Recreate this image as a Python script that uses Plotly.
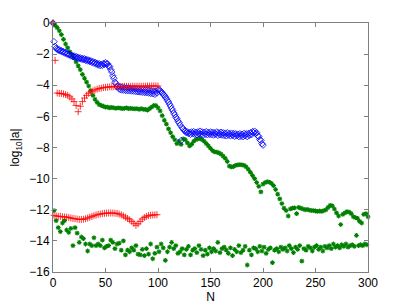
import plotly.graph_objects as go

# blue diamonds, N = 0..200
blue_n = list(range(0, 201))
blue_v = [
    0.0, -1.2, -1.5, -1.62, -1.68, -1.75, -1.72, -1.8, -1.78, -1.86,
    -1.84, -1.93, -1.9, -1.99, -1.97, -2.05, -2.02, -2.12, -2.08, -2.16,
    -2.12, -2.2, -2.16, -2.25, -2.2, -2.28, -2.24, -2.32, -2.27, -2.36,
    -2.3, -2.4, -2.34, -2.44, -2.38, -2.48, -2.43, -2.53, -2.48, -2.58,
    -2.53, -2.64, -2.58, -2.7, -2.62, -2.74, -2.65, -2.72, -2.6, -2.66,
    -2.55, -2.64, -2.62, -2.78, -2.8, -3.0, -3.15, -3.4, -3.55, -3.8,
    -3.9, -4.1, -4.05, -4.25, -4.1, -4.3, -4.12, -4.32, -4.15, -4.33,
    -4.15, -4.35, -4.17, -4.36, -4.2, -4.37, -4.2, -4.38, -4.22, -4.4,
    -4.22, -4.42, -4.25, -4.43, -4.25, -4.45, -4.27, -4.46, -4.3, -4.48,
    -4.3, -4.5, -4.32, -4.52, -4.35, -4.55, -4.38, -4.58, -4.4, -4.5,
    -4.3, -4.28, -4.35, -4.42, -4.5, -4.58, -4.65, -4.75, -4.85, -4.98,
    -5.08, -5.22, -5.35, -5.5, -5.62, -5.78, -5.9, -6.05, -6.15, -6.3,
    -6.4, -6.55, -7.55, -6.72, -6.8, -6.9, -6.95, -7.05, -7.0, -7.1,
    -7.02, -7.15, -7.0, -7.12, -6.98, -7.15, -7.02, -7.18, -7.0, -7.12,
    -6.95, -7.15, -7.0, -7.2, -7.02, -7.15, -6.98, -7.18, -7.03, -7.15,
    -7.0, -7.18, -7.02, -7.2, -7.05, -7.15, -7.0, -7.22, -7.05, -7.18,
    -7.02, -7.2, -7.05, -7.22, -7.08, -7.25, -7.05, -7.2, -7.1, -7.25,
    -7.08, -7.22, -7.1, -7.28, -7.12, -7.25, -7.15, -7.3, -7.12, -7.28,
    -7.15, -7.3, -7.1, -7.25, -7.12, -7.3, -7.1, -7.22, -7.05, -7.18,
    -6.98, -7.05, -6.95, -7.1, -7.05, -7.25, -7.3, -7.5, -7.55, -7.75,
    -7.85,
]

# red plus, upper branch (even N) and lower branch (odd N)
red_hi_n = list(range(0, 101, 2))
red_hi_v = [
    0.0, -2.4, -4.5, -4.52, -4.53, -4.56, -4.6, -4.65, -4.75, -4.88,
    -5.05, -5.3, -5.7, -5.35, -5.05, -4.82, -4.65, -4.52, -4.43, -4.36,
    -4.3, -4.25, -4.21, -4.18, -4.15, -4.13, -4.12, -4.1, -4.1, -4.09,
    -4.09, -4.08, -4.08, -4.08, -4.07, -4.07, -4.07, -4.07, -4.06, -4.06,
    -4.06, -4.06, -4.06, -4.06, -4.06, -4.05, -4.05, -4.05, -4.05, -4.05,
    -4.05,
]
red_lo_n = list(range(1, 100, 2))
red_lo_v = [
    -12.36, -12.4, -12.42, -12.43, -12.45, -12.46, -12.47, -12.5, -12.53, -12.56,
    -12.58, -12.6, -12.62, -12.62, -12.61, -12.58, -12.53, -12.48, -12.43, -12.38,
    -12.34, -12.3, -12.28, -12.25, -12.23, -12.22, -12.21, -12.21, -12.21, -12.22,
    -12.24, -12.28, -12.33, -12.4, -12.48, -12.56, -12.65, -12.75, -12.87, -13.0,
    -12.9, -12.75, -12.6, -12.5, -12.42, -12.38, -12.35, -12.34, -12.33, -12.32,
]

# green asterisks, upper branch (even N) and lower branch (odd N)
green_hi_n = list(range(0, 301, 2))
green_hi_v = [
    0.0, -0.15, -0.3, -0.5, -0.75, -1.05, -1.35, -1.6, -1.85, -2.05,
    -2.25, -2.5, -2.75, -3.0, -3.3, -3.55, -3.8, -4.05, -4.35, -4.65,
    -4.9, -5.1, -5.25, -5.3, -5.35, -5.4, -5.4, -5.45, -5.42, -5.45,
    -5.48, -5.45, -5.47, -5.5, -5.48, -5.45, -5.5, -5.48, -5.5, -5.52,
    -5.5, -5.55, -5.5, -5.55, -5.55, -5.6, -5.5, -5.4, -5.3, -5.3,
    -5.45, -5.65, -5.95, -6.25, -6.5, -6.8, -7.05, -7.3, -7.5, -7.75,
    -7.6, -7.8, -7.45, -7.5, -7.7, -7.9, -7.8, -7.6, -7.5, -7.45,
    -7.42, -7.5, -7.6, -7.75, -7.9, -8.05, -8.2, -8.28, -8.3, -8.35,
    -8.42, -8.55, -8.7, -8.9, -9.2, -9.25, -9.22, -9.15, -9.12, -9.1,
    -9.12, -9.15, -9.25, -9.4, -9.6, -9.8, -10.0, -10.25, -10.5, -10.85,
    -10.35, -10.25, -10.2, -10.22, -10.3, -10.45, -10.7, -11.0, -11.3, -11.6,
    -11.9, -12.05, -12.4, -11.95, -11.9, -11.88, -12.25, -11.85, -11.9, -11.95,
    -12.0, -11.98, -12.02, -12.05, -12.05, -12.08, -12.1, -12.08, -12.1, -12.05,
    -12.0, -11.85, -11.72, -11.75, -11.95, -12.2, -12.4, -12.95, -12.3, -12.2,
    -12.12, -12.15, -12.25, -12.45, -12.5, -12.55, -12.75, -12.85, -12.3, -12.25,
    -12.45,
]
green_lo_n = list(range(1, 300, 2))
green_lo_v = [
    -12.05, -12.7, -13.15, -13.4, -12.85, -12.7, -13.3, -13.45, -13.2, -14.3,
    -13.15, -13.5, -14.1, -13.75, -13.85, -14.2, -14.65, -14.2, -14.3, -13.8,
    -14.3, -14.2, -14.3, -13.95, -14.45, -14.35, -14.3, -13.95, -14.1, -14.5,
    -14.2, -14.15, -14.6, -14.0, -14.9, -14.6, -14.7, -14.45, -14.6, -14.3,
    -14.85, -14.9, -14.55, -14.95, -14.5, -14.85, -14.2, -15.15, -14.8, -14.4,
    -14.7, -14.2, -14.45, -15.25, -14.7, -14.4, -14.1, -14.5, -14.3, -14.8,
    -14.7, -14.5, -14.9, -14.55, -14.35, -14.9, -14.6, -14.5, -14.75, -14.3,
    -14.55, -14.95, -14.6, -14.85, -14.45, -14.7, -14.5, -14.65, -14.1, -14.75,
    -14.5, -14.4, -14.6, -14.8, -14.45, -14.95, -14.55, -14.7, -14.3, -14.75,
    -14.6, -14.35, -15.55, -14.6, -14.9, -14.45, -14.5, -14.7, -14.35, -14.65,
    -14.4, -14.8, -14.55, -14.45, -15.4, -14.6, -14.5, -14.7, -14.4, -14.55,
    -14.45, -14.65, -14.3, -14.5, -14.75, -14.4, -14.55, -14.3, -15.3, -14.5,
    -14.6, -14.35, -14.45, -14.65, -14.4, -14.3, -14.55, -14.4, -14.65, -14.35,
    -14.45, -14.3, -14.5, -14.2, -14.4, -14.3, -14.45, -14.25, -14.35, -14.2,
    -14.4, -14.3, -14.25, -14.35, -13.65, -14.3, -14.25, -14.3, -14.2, -14.25,
]

x_ticks = [0, 50, 100, 150, 200, 250, 300]
y_ticks = [0, -2, -4, -6, -8, -10, -12, -14, -16]

BLUE = '#0000FF'
RED = '#FF0000'
GREEN = '#008000'
FONT = 'Liberation Sans, Arial, sans-serif'

fig = go.Figure()
for xs, ys in [(green_hi_n, green_hi_v), (green_lo_n, green_lo_v)]:
    fig.add_trace(go.Scatter(
        x=xs, y=ys, mode='markers', cliponaxis=False,
        marker=dict(symbol='asterisk-open', size=4, color=GREEN,
                    line=dict(color=GREEN, width=1.1)),
    ))
fig.add_trace(go.Scatter(
    x=blue_n, y=blue_v, mode='markers', cliponaxis=False,
    marker=dict(symbol='diamond-open', size=5, color=BLUE,
                line=dict(color=BLUE, width=0.8)),
))
for xs, ys in [(red_hi_n, red_hi_v), (red_lo_n, red_lo_v)]:
    fig.add_trace(go.Scatter(
        x=xs, y=ys, mode='markers', cliponaxis=False,
        marker=dict(symbol='cross-thin-open', size=5, color=RED,
                    line=dict(color=RED, width=0.8)),
    ))

axis_common = dict(
    showline=True, linecolor='#808080', linewidth=1, mirror='allticks',
    ticks='inside', ticklen=4, tickcolor='#808080', showgrid=False, zeroline=False,
    automargin=False,
    tickfont=dict(family=FONT, size=12, color='black'),
)
fig.update_xaxes(range=[0, 300], tickvals=x_ticks,
                 title=dict(text='N', standoff=0, font=dict(family=FONT, size=12, color='black')),
                 **axis_common)
fig.update_yaxes(range=[-16, 0], tickvals=y_ticks,
                 title=dict(text='log<sub>10</sub>|a|', standoff=10, font=dict(family=FONT, size=12, color='black')),
                 **axis_common)

# page body adds an 8 px offset, so the figure is 8 px smaller each way
fig.update_layout(
    width=399, height=297,
    margin=dict(l=45, r=39, t=15, b=33, autoexpand=False),
    paper_bgcolor='white', plot_bgcolor='white',
    showlegend=False,
)

fig.write_html("out.html")
